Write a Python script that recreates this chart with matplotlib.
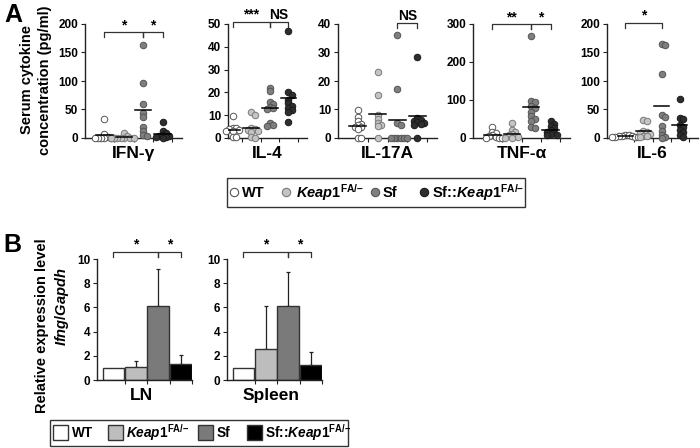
import numpy as np
import matplotlib
matplotlib.use("Agg")
import matplotlib.pyplot as plt
import matplotlib.transforms as mtransforms
from matplotlib.patches import Rectangle
from matplotlib.lines import Line2D

plt.rcParams['font.family'] = ['Liberation Sans', 'DejaVu Sans']
plt.rcParams['font.weight'] = 'bold'
plt.rcParams['mathtext.fontset'] = 'custom'
plt.rcParams['mathtext.rm'] = 'Liberation Sans:bold'
plt.rcParams['mathtext.it'] = 'Liberation Sans:italic:bold'
plt.rcParams['mathtext.bf'] = 'Liberation Sans:bold'

# group names
group_labels = ["WT", r"$\mathit{Keap1}^{\mathrm{FA/–}}$", "Sf", r"Sf::$\mathit{Keap1}^{\mathrm{FA/–}}$"]

# panel A: serum cytokines (pg/ml), one list per group: WT, Keap1, Sf, Sf::Keap1
ifng = [[33, 7, 2, 0, 0, 0, 0, 0, 0],
        [8, 3, 0, 0, 0, 0, 0, 0, 0],
        [164, 97, 60, 44, 36, 20, 12, 5, 3],
        [28, 13, 8, 6, 4, 3, 2, 1, 0]]
il4 = [[9.8, 4.5, 4.2, 4.0, 3.5, 3.2, 3.0, 0.5, 0.3],
       [11.2, 10.2, 4.6, 4.0, 3.6, 3.2, 2.8, 0.3, 0.2],
       [22, 20.5, 16, 15, 13.5, 13, 12.5, 6.5, 5.8, 5.2],
       [47, 20.3, 19, 16.7, 15.2, 14, 13, 12.3, 11.5, 7.2]]
il17a = [[9.8, 7.5, 6, 5, 4.5, 4, 3.8, 3.2, 0, 0],
         [23, 15, 8, 6.8, 5.4, 4.6, 4.2, 0],
         [36, 17.3, 5.2, 4.6, 0, 0, 0, 0, 0, 0],
         [28.3, 7, 6.4, 6, 5.7, 5.3, 5, 4.6, 0]]
tnfa = [[30, 17, 12, 8, 5, 3, 1, 0, 0],
        [40, 22, 15, 11, 8, 6, 3, 1, 0],
        [269, 98, 94, 84, 80, 68, 58, 50, 44, 30, 25],
        [46, 38, 31, 25, 21, 17, 14, 11, 9, 8]]
il6 = [[6, 5, 4, 3.5, 3, 2.5, 2, 1.5, 1],
       [31, 29, 12, 11, 9, 7, 4, 3, 2],
       [165, 163, 112, 40, 37, 21, 12, 6, 2, 0],
       [68, 35, 34, 22, 19, 14, 11, 6, 2]]

cyto_names = ["IFN-γ", "IL-4", "IL-17A", "TNF-α", "IL-6"]
cyto_data = [ifng, il4, il17a, tnfa, il6]
cyto_ymax = [200, 50, 40, 300, 200]
cyto_ystep = [50, 10, 10, 100, 50]
cyto_sig = [[(1, 3, "*"), (3, 4, "*")],
            [(1, 3, "***"), (3, 4, "NS")],
            [(3, 4, "NS")],
            [(1, 3, "**"), (3, 4, "*")],
            [(1, 3, "*")]]

# panel B: relative Ifng/Gapdh expression
tissues = ["LN", "Spleen"]
expr_mean = [[1.0, 1.1, 6.1, 1.35], [1.0, 2.6, 6.1, 1.25]]
expr_err = [[0.0, 0.45, 3.05, 0.75], [0.0, 3.5, 2.8, 1.05]]
expr_sig = [[(1, 3, "*"), (3, 4, "*")], [(1, 3, "*"), (3, 4, "*")]]

dot_face = ["white", "#c4c4c4", "#7f7f7f", "#2e2e2e"]
dot_edge = ["#555555", "#7a7a7a", "#555555", "#1a1a1a"]
bar_face = ["white", "#bdbdbd", "#7a7a7a", "black"]

W, H = 700, 448
fig = plt.figure(figsize=(7, 4.48), dpi=100)


def add_ax(l, r, t, b):
    return fig.add_axes([l / W, 1 - b / H, (r - l) / W, (b - t) / H])


def fx(px):
    return px / W


def fy(py):
    return 1 - py / H


def style_ax(ax, ymax, ystep):
    for s in ["top", "right"]:
        ax.spines[s].set_visible(False)
    for s in ["left", "bottom"]:
        ax.spines[s].set_color("#222222")
        ax.spines[s].set_linewidth(1.0)
    ax.set_ylim(0, ymax)
    ax.set_yticks(np.arange(0, ymax + 0.1, ystep))
    ax.set_yticklabels([f"{int(v)}" for v in np.arange(0, ymax + 0.1, ystep)],
                       fontsize=8.5, fontweight="bold")
    ax.set_xticks([1.5, 2.5, 3.5, 4.5])
    ax.set_xticklabels([])
    ax.tick_params(axis="both", direction="out", length=3, width=0.8, color="#222222", pad=2)
    ax.patch.set_alpha(0)


def swarm(vals, py_unit, px_unit, d=5.5):
    placed = []
    offs = []
    for v in vals:
        y = v * py_unit
        for k in [0, 1, -1, 2, -2, 3, -3, 4, -4]:
            x = k * d * 0.6
            if all((x - a) ** 2 + (y - b) ** 2 >= (d * 0.6) ** 2 for a, b in placed):
                break
        placed.append((x, y))
        offs.append(x / px_unit)
    return offs


def bracket(ax, pairs, y0, y1, fs=10):
    tr = mtransforms.blended_transform_factory(ax.transData, ax.transAxes)
    for a, b, lab in pairs:
        ax.plot([a, a, b, b], [y1, y0, y0, y1], color="#333333", lw=0.9,
                transform=tr, clip_on=False)
        ax.text((a + b) / 2, y0 + 0.0, lab, transform=tr, ha="center", va="bottom",
                fontsize=fs, fontweight="bold", clip_on=False)


# ---- panel A ----
a_top, a_bot = 24, 138
a_bounds = [(85, 182, (0, 5)), (228, 307, (0.75, 5)), (338, 437, (0, 5)),
            (473, 570, (0, 5)), (607, 698, (0, 5))]
a_bracket_y = [0.93, 1.02, 1.01, 1.00, 1.01]

for name, data, ymax, ystep, sig, (l, r, xl), by in zip(
        cyto_names, cyto_data, cyto_ymax, cyto_ystep, cyto_sig, a_bounds, a_bracket_y):
    ax = add_ax(l, r, a_top, a_bot)
    ax.set_xlim(*xl)
    style_ax(ax, ymax, ystep)
    py_unit = (a_bot - a_top) / ymax
    px_unit = (r - l) / (xl[1] - xl[0])
    for g, vals in enumerate(data):
        offs = swarm(vals, py_unit, px_unit)
        ax.scatter(np.array(offs) + g + 1, vals, s=22, c=dot_face[g], edgecolors=dot_edge[g],
                   linewidths=0.7, zorder=3, clip_on=False)
        m = np.mean(vals)
        ax.plot([g + 1 - 0.42, g + 1 + 0.42], [m, m], color="black", lw=1.1, zorder=4)
    bracket(ax, sig, by, by - 0.045)
    fig.text(fx((l + r) / 2), fy(146), name, ha="center", va="top", fontsize=12.5, fontweight="bold")

fig.text(fx(36), fy(80), "Serum cytokine\nconcentration (pg/ml)", rotation=90, ha="center",
         va="center", fontsize=10.5, fontweight="bold", linespacing=1.3)
fig.text(fx(4), fy(3), "A", ha="left", va="top", fontsize=18, fontweight="bold")

# legend A
fig.add_artist(Rectangle((fx(227), fy(207)), fx(298), 29 / H, transform=fig.transFigure,
                         fill=False, edgecolor="#333333", lw=1.0))
leg_a = [(234, 242), (286, 296), (375, 383), (424, 432)]
for g, (mx, tx) in enumerate(leg_a):
    fig.add_artist(Line2D([fx(mx)], [fy(192)], marker="o", ms=6.0, mfc=dot_face[g],
                          mec=dot_edge[g], mew=0.8, transform=fig.transFigure))
    fig.text(fx(tx), fy(193), group_labels[g], ha="left", va="center", fontsize=10.5, fontweight="bold")

# ---- panel B ----
b_top, b_bot = 259, 380
b_bounds = [(97, 192), (227, 322)]
for t, (name, mean, err, sig, (l, r)) in enumerate(zip(tissues, expr_mean, expr_err, expr_sig, b_bounds)):
    ax = add_ax(l, r, b_top, b_bot)
    ax.set_xlim(0.27, 4.5)
    style_ax(ax, 10, 2)
    x = np.arange(1, 5)
    ax.bar(x, mean, width=0.97, color=bar_face, edgecolor="#333333", linewidth=1.0, zorder=2)
    for xi, m, e in zip(x, mean, err):
        if e > 0:
            ax.errorbar([xi], [m], yerr=[[0], [e]], fmt="none", ecolor="#222222",
                        elinewidth=0.9, capsize=1.5, capthick=0.9, zorder=1)
    bracket(ax, sig, 1.06, 1.015)
    fig.text(fx((l + r) / 2 - 3), fy(388), name, ha="center", va="top", fontsize=12.5, fontweight="bold")

fig.text(fx(42), fy(326), "Relative expression level", rotation=90, ha="center", va="center",
         fontsize=10.5, fontweight="bold")
fig.text(fx(62), fy(307), r"$\mathit{Ifng/Gapdh}$", rotation=90, ha="center", va="center",
         fontsize=10.5)
fig.text(fx(3), fy(233), "B", ha="left", va="top", fontsize=18, fontweight="bold")

# legend B
fig.add_artist(Rectangle((fx(50), fy(446)), fx(298), 26 / H, transform=fig.transFigure,
                         fill=False, edgecolor="#333333", lw=1.0))
leg_b = [(53, 72), (108, 126), (198, 217), (247, 265)]
for g, (sx, tx) in enumerate(leg_b):
    fig.add_artist(Rectangle((fx(sx), fy(440)), 15 / W, 15 / H, transform=fig.transFigure,
                             facecolor=bar_face[g], edgecolor="#333333", lw=1.0))
    fig.text(fx(tx), fy(433), group_labels[g], ha="left", va="center", fontsize=9.8, fontweight="bold")

fig.savefig("out.png", dpi=100)
